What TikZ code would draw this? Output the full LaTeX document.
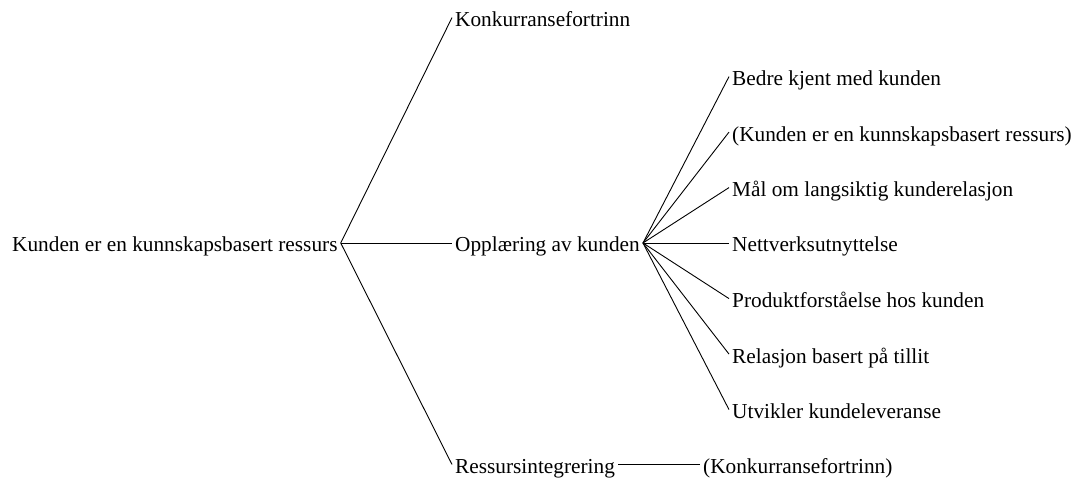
\documentclass[tikz,border=0pt]{standalone}
\usepackage{fontspec}
\setmainfont{Liberation Serif}
\begin{document}
\begin{tikzpicture}[x=1pt,y=1pt,
  lbl/.style={anchor=west,inner xsep=3pt,inner ysep=0pt,text height=20.2pt,text depth=2.3pt,font=\fontsize{21.3}{25}\selectfont},
  conn/.style={line width=0.9pt,draw=black}]
\useasboundingbox[fill=white] (0,0) rectangle (1076,479);
\node[lbl] (root) at (9,236) {Kunden er en kunnskapsbasert ressurs};
\node[lbl] (konk) at (452,461.4) {Konkurransefortrinn};
\node[lbl] (oppl) at (452,236) {Opplæring av kunden};
\node[lbl] (ress) at (452,14.5) {Ressursintegrering};
\node[lbl] (b1) at (729,402.4) {Bedre kjent med kunden};
\node[lbl] (b2) at (729,346.9) {(Kunden er en kunnskapsbasert ressurs)};
\node[lbl] (b3) at (729,291.4) {Mål om langsiktig kunderelasjon};
\node[lbl] (b4) at (729,236) {Nettverksutnyttelse};
\node[lbl] (b5) at (729,180.4) {Produktforståelse hos kunden};
\node[lbl] (b6) at (729,124.9) {Relasjon basert på tillit};
\node[lbl] (b7) at (729,69.4) {Utvikler kundeleveranse};
\node[lbl] (rk) at (700,14.5) {(Konkurransefortrinn)};
\foreach \t in {konk,oppl,ress} \draw[conn] (root.east) -- (\t.west);
\foreach \t in {b1,b2,b3,b4,b5,b6,b7} \draw[conn] (oppl.east) -- (\t.west);
\draw[conn] (ress.east) -- (rk.west);
\end{tikzpicture}
\end{document}
